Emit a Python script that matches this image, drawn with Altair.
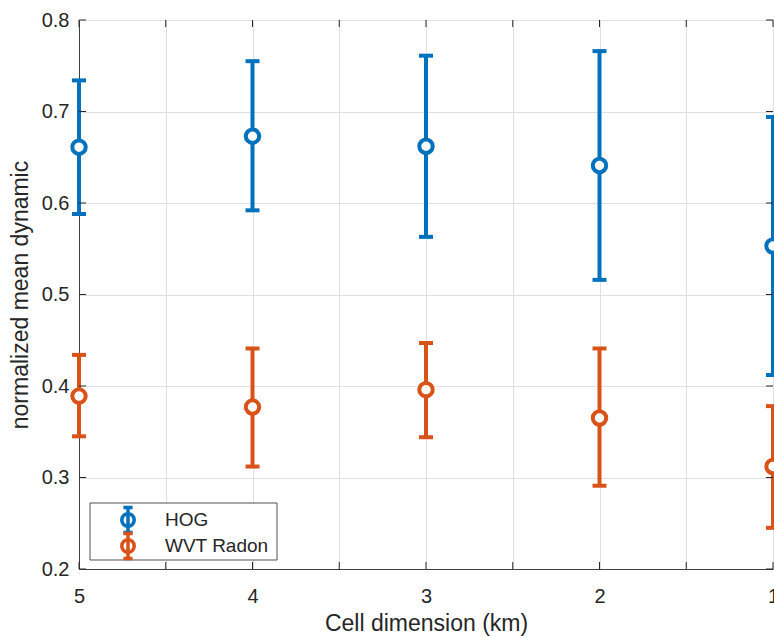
import altair as alt
import pandas as pd

# ---- data ----
cell_dim = [5, 4, 3, 2, 1]
hog_mean = [0.661, 0.673, 0.662, 0.641, 0.553]
hog_upper = [0.734, 0.755, 0.761, 0.766, 0.694]
hog_lower = [0.588, 0.592, 0.563, 0.516, 0.412]
wvt_mean = [0.389, 0.377, 0.396, 0.365, 0.312]
wvt_upper = [0.434, 0.441, 0.447, 0.441, 0.378]
wvt_lower = [0.345, 0.312, 0.344, 0.291, 0.245]
series_names = ["HOG", "WVT Radon"]
series_colors = ["#0072BD", "#D95319"]
x_ticks = [5, 4.5, 4, 3.5, 3, 2.5, 2, 1.5, 1]
y_ticks = [0.2, 0.3, 0.4, 0.5, 0.6, 0.7, 0.8]

rows = []
for name, m, u, l in [("HOG", hog_mean, hog_upper, hog_lower),
                      ("WVT Radon", wvt_mean, wvt_upper, wvt_lower)]:
    for xv, mv, uv, lv in zip(cell_dim, m, u, l):
        rows.append({"cell": xv, "mean": mv, "upper": uv, "lower": lv, "series": name})
df = pd.DataFrame(rows)
xt = pd.DataFrame({"t": x_ticks})
yt = pd.DataFrame({"t": y_ticks})
leg_df = pd.DataFrame({"series": series_names})
box_df = pd.DataFrame({"k": [0]})

FONT = "Liberation Sans"
TXT = "#262626"
W, H = 694, 549

xscale = alt.Scale(domain=[1, 5], reverse=True, nice=False, zero=False)
yscale = alt.Scale(domain=[0.2, 0.8], nice=False, zero=False)
cscale = alt.Scale(domain=series_names, range=series_colors)
row_scale = alt.Scale(type="point", domain=series_names, range=[500, 526], padding=0)

xaxis = alt.Axis(values=x_ticks, labelExpr="datum.value % 1 === 0 ? format(datum.value, 'd') : ''",
                 grid=True, gridColor="#e0e0e0", ticks=False, tickSize=0,
                 domainColor="#404040", labelFont=FONT, labelFontSize=20, labelColor=TXT,
                 labelPadding=17, labelFlush=False, labelOverlap=False,
                 title="Cell dimension (km)", titleFont=FONT, titleFontSize=23,
                 titleFontWeight="normal", titleColor=TXT, titlePadding=6)
yaxis = alt.Axis(values=y_ticks, format=".1f", grid=True, gridColor="#e0e0e0",
                 ticks=False, tickSize=0, domainColor="#404040",
                 labelFont=FONT, labelFontSize=20, labelColor=TXT, labelPadding=10,
                 labelFlush=False, labelOverlap=False,
                 title="normalized mean dynamic", titleFont=FONT, titleFontSize=23,
                 titleFontWeight="normal", titleColor=TXT, titlePadding=9)

legend_path = ("M0,-1L0,1M-0.37,-1L0.37,-1M-0.37,1L0.37,1"
               "M-0.5,0A0.5,0.5,0,1,1,0.5,0A0.5,0.5,0,1,1,-0.5,0")

base = alt.Chart(df)
col = alt.Color("series:N", scale=cscale, legend=None)

bars = base.mark_rule(strokeWidth=4).encode(
    x=alt.X("cell:Q", scale=xscale, axis=xaxis),
    y=alt.Y("lower:Q", scale=yscale, axis=yaxis),
    y2="upper:Q",
    color=col,
)
caps_hi = base.mark_tick(orient="horizontal", size=14, thickness=4, opacity=1).encode(
    x=alt.X("cell:Q", scale=xscale),
    y=alt.Y("upper:Q", scale=yscale, axis=None),
    color=col,
)
caps_lo = base.mark_tick(orient="horizontal", size=14, thickness=4, opacity=1).encode(
    x=alt.X("cell:Q", scale=xscale),
    y=alt.Y("lower:Q", scale=yscale, axis=None),
    color=col,
)
points = base.mark_point(shape="circle", size=180, strokeWidth=4, filled=False,
                         fill="white", fillOpacity=1, opacity=1).encode(
    x=alt.X("cell:Q", scale=xscale),
    y=alt.Y("mean:Q", scale=yscale, axis=None),
    color=col,
)

tick_col = TXT
bt = alt.Chart(xt).mark_rule(color=tick_col, strokeWidth=1).encode(
    x=alt.X("t:Q", scale=xscale), y=alt.value(H), y2=alt.value(H - 7))
tt = alt.Chart(xt).mark_rule(color=tick_col, strokeWidth=1).encode(
    x=alt.X("t:Q", scale=xscale), y=alt.value(0), y2=alt.value(7))
lt = alt.Chart(yt).mark_rule(color=tick_col, strokeWidth=1).encode(
    y=alt.Y("t:Q", scale=yscale, axis=None), x=alt.value(0), x2=alt.value(7))
rt = alt.Chart(yt).mark_rule(color=tick_col, strokeWidth=1).encode(
    y=alt.Y("t:Q", scale=yscale, axis=None), x=alt.value(W - 7), x2=alt.value(W))

# legend (MATLAB style, lower-left inside the axes)
leg_box = alt.Chart(box_df).mark_rect(fill="white", stroke=TXT, strokeWidth=0.8).encode(
    x=alt.value(11), x2=alt.value(198), y=alt.value(483), y2=alt.value(540))
leg_sym = alt.Chart(leg_df).mark_point(shape=legend_path, size=620, strokeWidth=3.5,
                                       filled=False, fill="white", fillOpacity=1, opacity=1).encode(
    x=alt.value(49),
    y=alt.Y("series:N", scale=row_scale, axis=None),
    color=col,
)
leg_txt = alt.Chart(leg_df).mark_text(align="left", baseline="middle", font=FONT,
                                      fontSize=19, color=TXT).encode(
    x=alt.value(86),
    y=alt.Y("series:N", scale=row_scale, axis=None),
    text="series:N",
)

chart = alt.layer(bars, caps_hi, caps_lo, points, bt, tt, lt, rt,
                  leg_box, leg_sym, leg_txt).resolve_scale(y="independent").properties(
    width=W, height=H,
    padding={"left": 79, "top": 20, "right": 1, "bottom": 68},
    autosize=alt.AutoSizeParams(type="none"),
).configure_view(stroke="#404040", strokeWidth=1).configure(background="white")

chart.save("out.html", embed_options={"renderer": "svg", "actions": False})
